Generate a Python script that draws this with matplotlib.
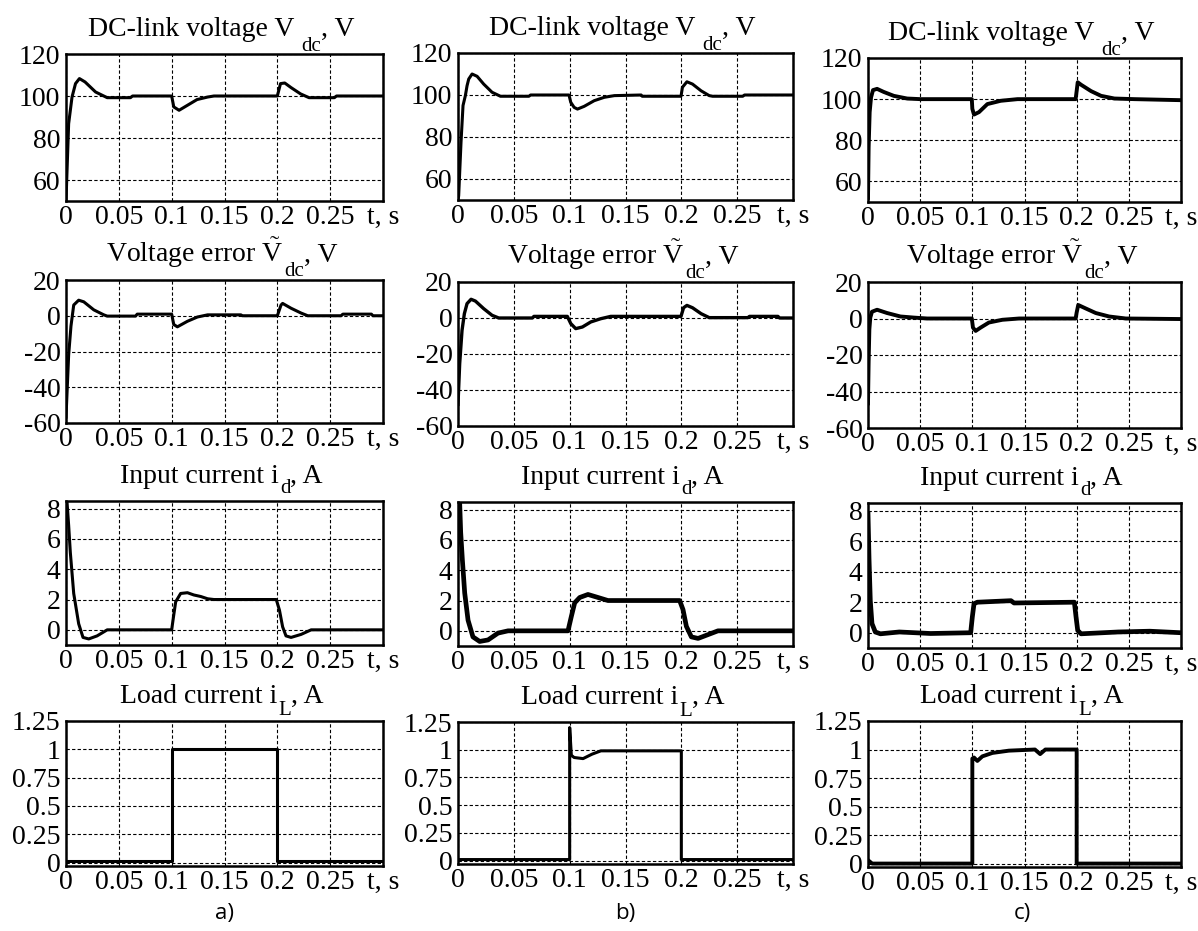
import matplotlib
matplotlib.use("Agg")
import matplotlib.pyplot as plt

plt.rcParams['font.family'] = ['Liberation Serif', 'DejaVu Serif']
plt.rcParams['mathtext.fontset'] = 'custom'
plt.rcParams['mathtext.rm'] = 'Liberation Serif'
plt.rcParams['mathtext.it'] = 'Liberation Serif:italic'
plt.rcParams['mathtext.bf'] = 'Liberation Serif:bold'

# ---------------- data ----------------
x_ticks = [0, 0.05, 0.1, 0.15, 0.2, 0.25, 0.3]
x_ticklabels = ["0", "0.05", "0.1", "0.15", "0.2", "0.25", "t, s"]

# title pieces: main text, subscript, tail
title_main = ["DC-link voltage V", r"Voltage error $\tilde{\mathrm{V}}$",
              "Input current i", "Load current i"]
title_sub = ["dc", "dc", "d", "L"]
title_tail = [", V", ", V", ", A", ", A"]

y_ticks = [[60, 80, 100, 120],
           [-60, -40, -20, 0, 20],
           [0, 2, 4, 6, 8],
           [0, 0.25, 0.5, 0.75, 1, 1.25]]
y_ticklabels = [["60", "80", "100", "120"],
                ["-60", "-40", "-20", "0", "20"],
                ["0", "2", "4", "6", "8"],
                ["0", "0.25", "0.5", "0.75", "1", "1.25"]]
y_limits = [(50, 120), (-60, 20), (-1, 8.5), (-0.03, 1.25)]
column_labels = ["a)", "b)", "c)"]

# column a) — simulation
a_vdc_t = [0, 0.0025, 0.0057, 0.009, 0.0127, 0.018, 0.028, 0.039, 0.061, 0.063, 0.1, 0.102,
           0.107, 0.115, 0.124, 0.134, 0.14, 0.2, 0.203, 0.207, 0.213, 0.222, 0.23, 0.254, 0.256, 0.3]
a_vdc_v = [50, 86.8, 99.5, 105.9, 108.3, 106.7, 101.9, 99.2, 99.2, 100, 100, 94.8,
           93.2, 95.6, 98.3, 99.5, 100, 100, 105.9, 106.2, 104, 101, 99.2, 99.2, 100, 100]
a_err_t = [0, 0.0025, 0.0047, 0.0073, 0.012, 0.0168, 0.0263, 0.0358, 0.039, 0.0658, 0.0674, 0.1,
           0.102, 0.1054, 0.1149, 0.1244, 0.134, 0.1655, 0.167, 0.2, 0.2035, 0.205, 0.213, 0.2225,
           0.2288, 0.2604, 0.262, 0.289, 0.2905, 0.3]
a_err_v = [-56.7, -22, -5.8, 6, 8.7, 7.8, 3.3, 0.5, -0.2, -0.2, 0.9, 0.9,
           -4.9, -6.2, -3.1, -0.7, 0.5, 0.5, 0, 0, 6, 6.9, 4.2, 1.5,
           0, 0, 0.9, 0.9, 0, 0]
a_id_t = [0, 0.001, 0.0025, 0.0041, 0.0073, 0.012, 0.0161, 0.0215, 0.0294, 0.039, 0.1, 0.1016,
          0.1038, 0.1085, 0.1149, 0.121, 0.1275, 0.134, 0.14, 0.199, 0.202, 0.205, 0.2082, 0.213,
          0.2225, 0.232, 0.3]
a_id_v = [8.5, 8.4, 6.9, 5.1, 2.4, 0.4, -0.5, -0.6, -0.4, 0, 0, 0.8,
          1.85, 2.4, 2.45, 2.3, 2.2, 2.05, 2.0, 2.0, 1.3, 0.2, -0.4, -0.5,
          -0.3, 0, 0]
a_il_t = [0, 0.1, 0.1, 0.2, 0.2, 0.3]
a_il_v = [0.01, 0.01, 1.0, 1.0, 0.01, 0.01]

# column b)
b_vdc_t = [0, 0.0006, 0.0015, 0.0027, 0.0045, 0.0066, 0.0081, 0.0096, 0.0126, 0.0171, 0.023, 0.0305,
           0.038, 0.0635, 0.065, 0.0994, 0.101, 0.104, 0.107, 0.113, 0.122, 0.131, 0.14, 0.164,
           0.165, 0.1997, 0.201, 0.205, 0.21, 0.2177, 0.225, 0.228, 0.255, 0.2566, 0.3]
b_vdc_v = [50, 52, 63, 77.5, 95, 99.7, 104.4, 107.6, 110, 108.9, 105.2, 101.3,
           99.4, 99.4, 100, 100, 96.5, 94.1, 93.3, 94.6, 97.3, 98.9, 99.7, 100,
           99.4, 99.4, 103.7, 106.3, 105.2, 102, 99.7, 99.4, 99.4, 100, 100]
b_err_t = [0, 0.0015, 0.0036, 0.0057, 0.0081, 0.0117, 0.0156, 0.023, 0.0305, 0.0365, 0.0665, 0.068,
           0.0979, 0.101, 0.1054, 0.1114, 0.1189, 0.1278, 0.1368, 0.1997, 0.202, 0.205, 0.21,
           0.2177, 0.225, 0.2596, 0.261, 0.2865, 0.288, 0.3]
b_err_v = [-48, -25.4, -6.9, 2.4, 8, 10.4, 9.4, 5.2, 1.5, 0, 0, 0.9,
           0.9, -3.1, -5.9, -5, -2.2, -0.4, 0.9, 0.9, 5.7, 7, 5.7,
           2.4, 0.2, 0.2, 0.9, 0.9, 0, 0]
b_id_t = [0, 0.0008, 0.0015, 0.0024, 0.0039, 0.006, 0.009, 0.0134, 0.0194, 0.0269, 0.0358, 0.0448,
          0.0985, 0.1015, 0.1045, 0.109, 0.1164, 0.1254, 0.1343, 0.1985, 0.2015, 0.2045, 0.209,
          0.215, 0.2239, 0.2328, 0.3]
b_id_v = [6.0, 8.5, 8.45, 6.5, 4.7, 2.5, 0.7, -0.4, -0.7, -0.6, -0.15, 0,
          0, 0.95, 1.85, 2.2, 2.4, 2.2, 2.0, 2.0, 1.4, 0.3, -0.4,
          -0.5, -0.25, 0, 0]
b_il_t = [0, 0.1, 0.1, 0.1015, 0.104, 0.112, 0.12, 0.128, 0.2, 0.2, 0.3]
b_il_v = [0.01, 0.01, 1.2, 0.95, 0.93, 0.92, 0.96, 0.99, 0.99, 0.01, 0.01]

# column c) — experiment
c_vdc_t = [0, 0.0006, 0.0016, 0.0029, 0.0048, 0.0087, 0.0151, 0.0247, 0.0375, 0.0503, 0.0995, 0.1,
           0.1016, 0.1064, 0.1144, 0.1272, 0.1433, 0.199, 0.2, 0.201, 0.2042, 0.2138, 0.2234,
           0.2362, 0.2554, 0.3]
c_vdc_v = [52, 76.5, 93.7, 100.8, 104.4, 105, 103.5, 101.6, 100.3, 100, 100, 95.3,
           92.5, 93.7, 97.6, 99.2, 100, 100, 104, 108.2, 107, 103.9, 101.6,
           100.3, 100, 99.5]
c_err_t = [0, 0.0006, 0.0013, 0.0022, 0.0038, 0.0087, 0.0183, 0.0311, 0.0439, 0.0567, 0.0995, 0.1006,
           0.1032, 0.1079, 0.1159, 0.1288, 0.1449, 0.199, 0.2, 0.2015, 0.2087, 0.2183, 0.2311,
           0.2471, 0.3]
c_err_v = [-46.5, -24, -6, 0.5, 3.7, 4.8, 3, 1.1, 0.5, 0, 0, -5,
           -6.8, -5, -2.2, -0.7, 0, 0, 3.3, 7.4, 5.5, 3, 1.1,
           0, -0.3]
c_id_t = [0, 0.001, 0.0022, 0.0038, 0.007, 0.0119, 0.03, 0.06, 0.0984, 0.1, 0.1016, 0.1048,
          0.137, 0.14, 0.1978, 0.1994, 0.201, 0.2042, 0.24, 0.27, 0.3]
c_id_v = [7.8, 4.8, 2.1, 0.6, 0.05, -0.07, 0.05, -0.05, 0, 1.04, 1.9, 2.0,
          2.1, 1.95, 2.0, 1.04, 0.15, -0.07, 0.05, 0.1, 0]
c_il_t = [0, 0.004, 0.1, 0.1, 0.1016, 0.1048, 0.1096, 0.1192, 0.135, 0.16, 0.165, 0.17, 0.2, 0.2, 0.3]
c_il_v = [0.03, 0.0, 0.0, 0.92, 0.93, 0.9, 0.94, 0.97, 0.99, 1.0, 0.96, 1.0, 1.0, 0.0, 0.0]

series = [
    [(a_vdc_t, a_vdc_v), (a_err_t, a_err_v), (a_id_t, a_id_v), (a_il_t, a_il_v)],
    [(b_vdc_t, b_vdc_v), (b_err_t, b_err_v), (b_id_t, b_id_v), (b_il_t, b_il_v)],
    [(c_vdc_t, c_vdc_v), (c_err_t, c_err_v), (c_id_t, c_id_v), (c_il_t, c_il_v)],
]

# ---------------- layout (pixel boxes) ----------------
W, H = 1198, 931
col_lr = [(66, 383), (458, 793), (868, 1181)]
row_tb = [[(54, 201), (280, 423), (501, 645), (721, 866)],
          [(53, 200), (282, 426), (502, 646), (722, 864)],
          [(58, 202), (282, 428), (503, 648), (721, 867)]]
line_w = [[2.2, 2.2, 2.2, 2.2],
          [2.2, 2.4, 3.4, 2.2],
          [2.8, 2.8, 3.4, 2.8]]
label_x = [225, 625, 1022]
title_gap = [7, 1, 1, 1]        # px between main text and subscript
sub_drop = [15, 14, 10, 12]     # px the subscript baseline sits below the main baseline
title_rise = 18                 # px of main baseline above axes top

fig = plt.figure(figsize=(W / 100, H / 100), dpi=100)
renderer = fig.canvas.get_renderer()


def px(xp, yp):
    return xp / W, 1 - yp / H


def compose_title(cx, base_y, rr):
    pieces = [(title_main[rr], 20, 0, 0),
              (title_sub[rr], 15, sub_drop[rr], title_gap[rr]),
              (title_tail[rr], 20, 0, 0)]
    objs = []
    total = 0
    for s, fs, dy, gap in pieces:
        t = fig.text(0, 0, s, fontsize=fs, ha='left', va='baseline')
        w = t.get_window_extent(renderer).width
        objs.append((t, w, dy, gap))
        total += w + gap
    x = cx - total / 2
    for t, w, dy, gap in objs:
        x += gap
        t.set_position(px(x, base_y + dy))
        x += w


for c in range(3):
    l, r = col_lr[c]
    for rr in range(4):
        t0, b0 = row_tb[c][rr]
        ax = fig.add_axes([l / W, 1 - b0 / H, (r - l) / W, (b0 - t0) / H])
        t, v = series[c][rr]
        ax.plot(t, v, color='black', lw=line_w[c][rr], solid_joinstyle='round', zorder=3)
        ax.set_xlim(0, 0.3)
        ax.set_ylim(*y_limits[rr])
        ax.set_xticks(x_ticks)
        ax.set_xticklabels(x_ticklabels)
        ax.set_yticks(y_ticks[rr])
        ax.set_yticklabels(y_ticklabels[rr])
        ax.tick_params(length=0, labelsize=20, pad=3)
        ax.tick_params(axis='y', pad=4)
        ax.grid(True, color='black', linestyle=(0, (3, 2)), linewidth=0.8)
        for s in ax.spines.values():
            s.set_linewidth(1.8)
        compose_title((l + r) / 2 - 3, t0 - title_rise, rr)
    fig.text(label_x[c] / W, 1 - 913 / H, column_labels[c], ha='center', va='center',
             fontsize=16, family=['Open Sans', 'DejaVu Sans'])

fig.savefig("out.png", dpi=100)
